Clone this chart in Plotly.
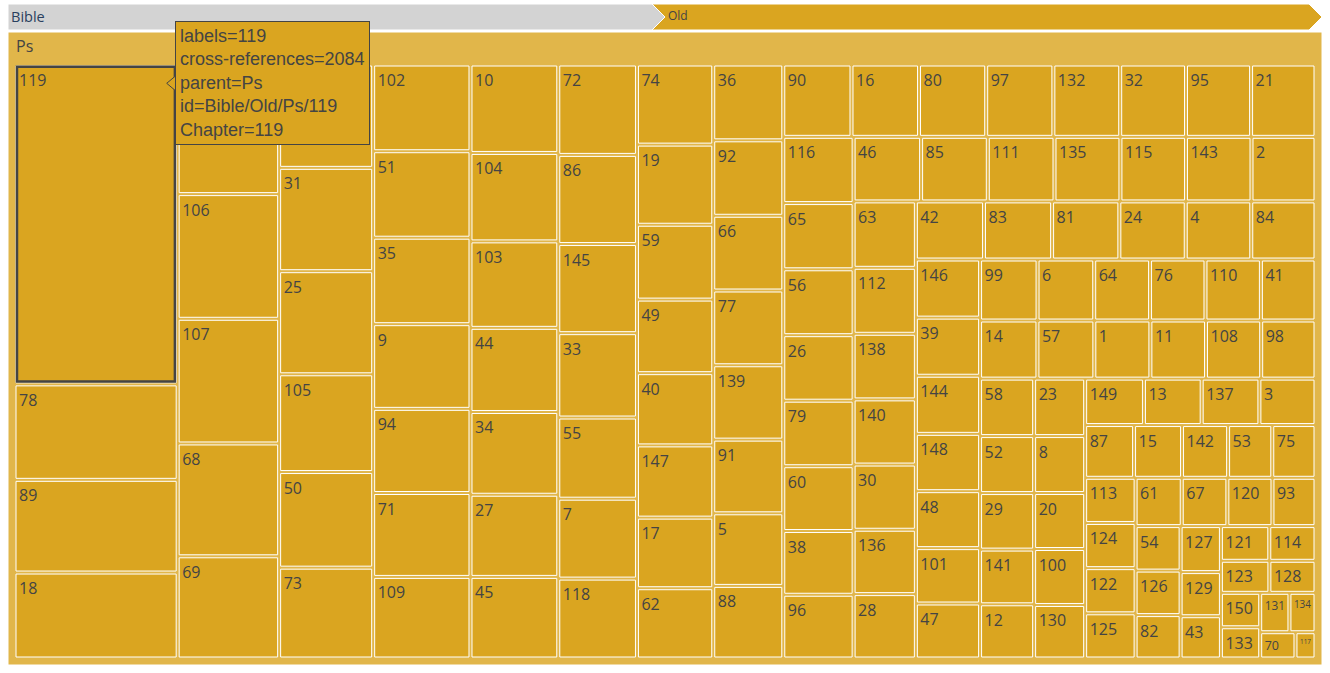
import plotly.graph_objects as go

# Psalms chapters (in display order) and their cross-reference counts
chapters = [119, 78, 89, 18, 22, 106, 107, 68, 69, 37, 31, 25, 105, 50, 73,
            102, 51, 35, 9, 94, 71, 109, 10, 104, 103, 44, 34, 27, 45,
            72, 86, 145, 33, 55, 7, 118, 74, 19, 59, 49, 40, 147, 17, 62,
            36, 92, 66, 77, 139, 91, 5, 88, 90, 16, 80, 97, 132, 32, 95, 21,
            116, 65, 56, 26, 79, 60, 38, 96, 46, 85, 111, 135, 115, 143, 2,
            63, 112, 138, 140, 30, 136, 28, 42, 83, 81, 24, 4, 84,
            146, 39, 144, 148, 48, 101, 47, 99, 6, 64, 76, 110, 41,
            14, 57, 1, 11, 108, 98, 58, 52, 29, 141, 12, 23, 8, 20, 100, 130,
            149, 13, 137, 3, 87, 15, 142, 53, 75, 113, 124, 122, 125,
            61, 67, 120, 93, 54, 126, 82, 127, 129, 43, 121, 114, 123, 128,
            150, 133, 131, 134, 70, 117]
cross_refs = [2084, 622, 604, 560, 525, 505, 505, 457, 414, 388, 388, 387, 367, 359, 341,
              337, 336, 336, 329, 327, 326, 317, 310, 310, 303, 295, 290, 288, 286,
              284, 280, 280, 265, 255, 251, 251, 244, 244, 228, 224, 220, 220, 215, 214,
              212, 211, 209, 209, 208, 206, 203, 203, 197, 195, 194, 194, 193, 190, 188, 186,
              186, 186, 185, 184, 184, 182, 179, 179, 174, 172, 172, 170, 169, 169, 165,
              165, 164, 163, 162, 162, 160, 160, 158, 158, 156, 154, 152, 149,
              149, 149, 149, 147, 146, 142, 141, 140, 138, 136, 135, 135, 133,
              133, 132, 130, 129, 128, 126, 124, 123, 122, 118, 117, 117, 116, 114, 114, 109,
              109, 107, 107, 104, 103, 101, 97, 93, 91, 91, 91, 91, 91,
              89, 88, 87, 83, 80, 80, 78, 74, 71, 68, 67, 64, 62, 59,
              54, 49, 46, 41, 37, 21]

testament = "Old"
book = "Ps"

ids = ["Bible", "Bible/" + testament, "Bible/" + testament + "/" + book]
labels = ["Bible", testament, book]
parents = ["", "Bible", "Bible/" + testament]
total = sum(cross_refs)
values = [total, total, total]
colors = ["lightgrey", "goldenrod", "goldenrod"]
for c, v in zip(chapters, cross_refs):
    ids.append("Bible/%s/%s/%d" % (testament, book, c))
    labels.append(str(c))
    parents.append("Bible/%s/%s" % (testament, book))
    values.append(v)
    colors.append("goldenrod")

fig = go.Figure(go.Treemap(
    ids=ids, labels=labels, parents=parents, values=values,
    branchvalues="total",
    level="Bible/%s/%s" % (testament, book),
    marker=dict(colors=colors, depthfade=True,
                line=dict(color="white", width=1),
                pad=dict(t=34, l=8, r=8, b=8)),
    textfont=dict(size=16),
    pathbar=dict(visible=True, thickness=26, textfont=dict(size=12)),
    hoverinfo="none",
))

# hovered tile outline (chapter 119)
fig.add_shape(type="rect", xref="paper", yref="paper",
              x0=0.006849, x1=0.12702, y0=0.44803, y1=0.94518,
              line=dict(color="#444", width=2.5), fillcolor="rgba(0,0,0,0)")
# hover label pointer
fig.add_shape(type="path", xref="paper", yref="paper",
              path="M 0.12078 0.91896 L 0.12747 0.93049 L 0.12747 0.90727 Z",
              line=dict(color="#444", width=1), fillcolor="goldenrod")
hover_text = "<br>".join([
    "labels=119",
    "cross-references=%d" % cross_refs[chapters.index(119)],
    "parent=" + book,
    "id=Bible/%s/%s/119" % (testament, book),
    "Chapter=119",
])
fig.add_annotation(
    xref="paper", yref="paper", x=0.12709, y=1.01785,
    xanchor="left", yanchor="top", text=hover_text, align="left",
    showarrow=False, bgcolor="goldenrod", bordercolor="#444",
    borderwidth=1, borderpad=4,
    font=dict(family="Arial, Liberation Sans, sans-serif", size=18, color="#444"))

fig.update_layout(width=1330, height=673,
                  margin=dict(l=8, r=8, t=32, b=8),
                  paper_bgcolor="white")
fig.write_html("out.html")
